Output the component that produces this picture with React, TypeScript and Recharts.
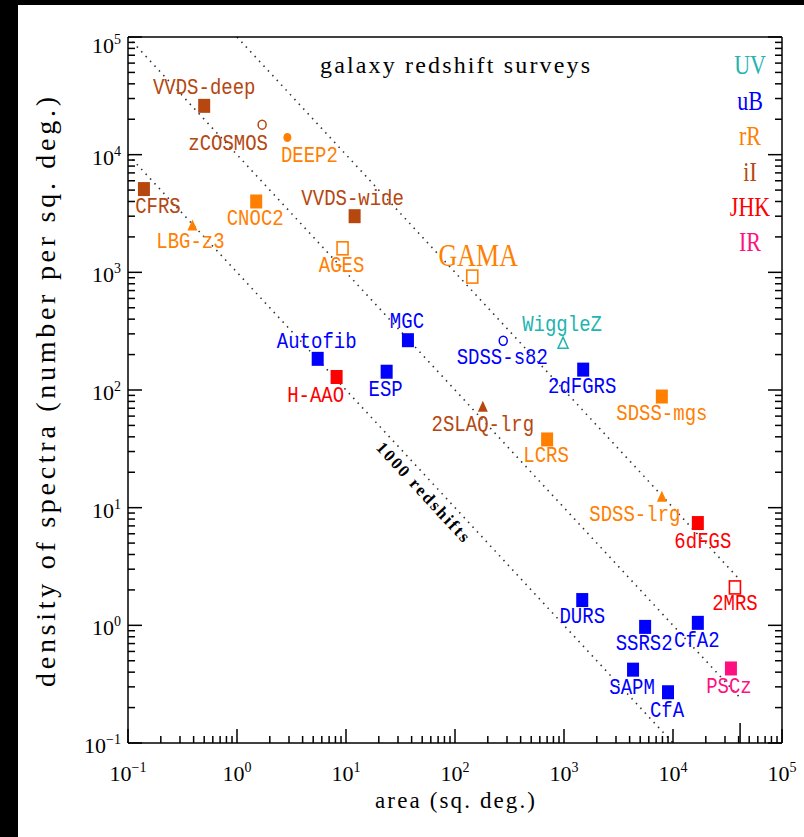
import { ScatterChart, Scatter, XAxis, YAxis, ReferenceLine, Customized } from "recharts";

// survey table: one entry per survey, same order in every array
const surveyNames = [
  "VVDS-deep", "zCOSMOS", "DEEP2", "CFRS", "LBG-z3", "CNOC2", "VVDS-wide", "AGES", "GAMA",
  "MGC", "Autofib", "H-AAO", "ESP", "SDSS-s82", "WiggleZ", "2dFGRS", "SDSS-mgs", "2SLAQ-lrg",
  "LCRS", "SDSS-lrg", "6dFGS", "2MRS", "DURS", "SSRS2", "CfA2", "SAPM", "CfA", "PSCz",
];
// area in sq. deg.
const surveyArea = [
  0.5, 1.7, 2.9, 0.14, 0.39, 1.5, 12, 9.3, 144,
  37, 5.5, 8.2, 23.6, 277, 980, 1500, 7900, 180,
  700, 7900, 16900, 37000, 1470, 5550, 16900, 4300, 9000, 34000,
];
// spectra per sq. deg.
const surveyDensity = [
  26000, 18000, 14000, 5100, 2500, 4000, 3000, 1600, 920,
  265, 184, 129, 143, 262, 250, 149, 88, 72,
  38, 12.4, 7.4, 2.1, 1.64, 0.97, 1.05, 0.42, 0.27, 0.43,
];
const surveyBand = [
  "iI", "iI", "rR", "iI", "rR", "rR", "iI", "rR", "rR",
  "uB", "uB", "JHK", "uB", "uB", "UV", "uB", "rR", "iI",
  "rR", "rR", "JHK", "JHK", "uB", "uB", "uB", "uB", "uB", "IR",
];
// sq = filled square, osq = open square, dot / ring = filled / open circle, tri / otri = triangles
const surveyMarker = [
  "sq", "ring", "dot", "sq", "tri", "sq", "sq", "osq", "osq",
  "sq", "sq", "sq", "sq", "ring", "otri", "sq", "sq", "tri",
  "sq", "tri", "sq", "osq", "sq", "sq", "sq", "sq", "sq", "sq",
];

const bandNames = ["UV", "uB", "rR", "iI", "JHK", "IR"];
const bandColors = ["#22b4b0", "#0000ff", "#ff8000", "#b5470f", "#ff0000", "#ff1080"];

// lines of constant total number of redshifts
const totalCounts = [1e3, 1e4, 1e5];
const FULL_SKY = 41253;
const decadeExponents = [-1, 0, 1, 2, 3, 4, 5];
const AREA_MIN = 0.1;
const DENS_MIN = 0.1;
const DENS_MAX = 1e5;

const rows = surveyNames.map((name, i) => ({
  name,
  area: surveyArea[i],
  density: surveyDensity[i],
  band: surveyBand[i],
  marker: surveyMarker[i],
}));

// label offset from the marker centre, in px
const labelOffset: Record<string, [number, number]> = {
  "VVDS-deep": [0, -18], zCOSMOS: [-34, 19], DEEP2: [22, 19], CFRS: [14, 18],
  "LBG-z3": [-2, 17], CNOC2: [-1, 18], "VVDS-wide": [-2, -17], AGES: [-1, 18],
  GAMA: [6, -21], MGC: [-1, -18], Autofib: [-1, -17], "H-AAO": [-21, 19],
  ESP: [-1, 18], "SDSS-s82": [-1, 17], WiggleZ: [-1, -18], "2dFGRS": [-1, 17],
  "SDSS-mgs": [0, 17], "2SLAQ-lrg": [0, 18], LCRS: [-1, 17], "SDSS-lrg": [-27, 18],
  "6dFGS": [5, 19], "2MRS": [0, 17], DURS: [0, 17], SSRS2: [-1, 17],
  CfA2: [-1, 18], SAPM: [-1, 18], CfA: [-1, 19], PSCz: [-2, 19],
};

const axisTicks = decadeExponents.flatMap((e) =>
  e < 5 ? [1, 2, 3, 4, 5, 6, 7, 8, 9].map((m) => m * 10 ** e) : [10 ** e]
);
const bottomTicks = [...axisTicks, FULL_SKY];

const isDecade = (v: number) => Math.abs(Math.log10(v) - Math.round(Math.log10(v))) < 1e-9;
const expText = (v: number) => {
  const e = Math.round(Math.log10(v));
  return e < 0 ? "\u2212" + -e : String(e);
};

const SERIF = "'Liberation Serif', 'DejaVu Serif', serif";
const MONO = "'Liberation Mono', 'DejaVu Sans Mono', monospace";

function PowerLabel({ x, y, v, anchor }: { x: number; y: number; v: number; anchor: "middle" | "end" }) {
  return (
    <text x={x} y={y} textAnchor={anchor} fontFamily={SERIF} fontSize={22} fill="#000">
      10
      <tspan dy={-9} fontSize={14}>{expText(v)}</tspan>
    </text>
  );
}

const tickLen = (v: number) => (v === FULL_SKY ? 20 : isDecade(v) ? 14 : 7);

const BottomTick = (p: any) => {
  const v = p.payload.value;
  return (
    <g>
      <line x1={p.x} x2={p.x} y1={p.y} y2={p.y - tickLen(v)} stroke="#000" strokeWidth={1.5} />
      {isDecade(v) && <PowerLabel x={p.x} y={p.y + 38} v={v} anchor="middle" />}
    </g>
  );
};

const TopTick = (p: any) => (
  <line x1={p.x} x2={p.x} y1={p.y} y2={p.y + tickLen(p.payload.value)} stroke="#000" strokeWidth={1.5} />
);

const LeftTick = (p: any) => {
  const v = p.payload.value;
  return (
    <g>
      <line x1={p.x} x2={p.x + tickLen(v)} y1={p.y} y2={p.y} stroke="#000" strokeWidth={1.5} />
      {isDecade(v) && <PowerLabel x={p.x - 7} y={p.y + (v === 1e5 ? 16 : 10)} v={v} anchor="end" />}
    </g>
  );
};

const RightTick = (p: any) => (
  <line x1={p.x} x2={p.x - tickLen(p.payload.value)} y1={p.y} y2={p.y} stroke="#000" strokeWidth={1.5} />
);

function Stretched({ x, y, sy, children, ...rest }: any) {
  return (
    <text transform={`translate(${x},${y}) scale(1,${sy})`} x={0} y={0} textAnchor="middle" dominantBaseline="central" {...rest}>
      {children}
    </text>
  );
}

function SurveyMark(props: any) {
  const { cx, cy, payload } = props;
  const color = bandColors[bandNames.indexOf(payload.band)];
  const [dx, dy] = labelOffset[payload.name] ?? [0, 18];
  let mark;
  switch (payload.marker) {
    case "osq":
      mark = <rect x={cx - 5.5} y={cy - 6.5} width={11} height={13} fill="none" stroke={color} strokeWidth={1.6} />;
      break;
    case "dot":
      mark = <ellipse cx={cx} cy={cy} rx={4} ry={4.5} fill={color} />;
      break;
    case "ring":
      mark = <ellipse cx={cx} cy={cy} rx={4} ry={4.5} fill="none" stroke={color} strokeWidth={1.5} />;
      break;
    case "tri":
      mark = <polygon points={`${cx - 5},${cy + 5} ${cx + 5},${cy + 5} ${cx},${cy - 6}`} fill={color} />;
      break;
    case "otri":
      mark = <polygon points={`${cx - 5},${cy + 5} ${cx + 5},${cy + 5} ${cx},${cy - 6}`} fill="none" stroke={color} strokeWidth={1.5} />;
      break;
    default:
      mark = <rect x={cx - 6} y={cy - 7} width={12} height={14} fill={color} />;
  }
  const big = payload.name === "GAMA";
  return (
    <g>
      {mark}
      <Stretched x={cx + dx} y={cy + dy} sy={1.2} fontFamily={big ? SERIF : MONO} fontSize={big ? 26 : 19} fill={color}>
        {payload.name}
      </Stretched>
    </g>
  );
}

function Decorations() {
  return (
    <g>
      <text x={455} y={73} textAnchor="middle" fontFamily={SERIF} fontSize={24} textLength={270} lengthAdjust="spacing" fill="#000">
        galaxy redshift surveys
      </text>
      {bandNames.map((b, i) => (
        <Stretched key={b} x={750} y={65 + i * 35.4} sy={1.25} fontFamily={SERIF} fontSize={22} fill={bandColors[i]}>
          {b}
        </Stretched>
      ))}
      <text
        transform="translate(423,492) rotate(47.3)"
        textAnchor="middle"
        dominantBaseline="central"
        fontFamily={SERIF}
        fontWeight="bold"
        fontSize={17}
        textLength={129}
        lengthAdjust="spacing"
        fill="#000"
      >
        1000 redshifts
      </text>
      <text x={455} y={808} textAnchor="middle" fontFamily={SERIF} fontSize={23} textLength={160} lengthAdjust="spacing" fill="#000">
        area (sq. deg.)
      </text>
      <text
        transform="translate(45,392) rotate(-90)"
        textAnchor="middle"
        dominantBaseline="central"
        fontFamily={SERIF}
        fontSize={28}
        textLength={590}
        lengthAdjust="spacing"
        fill="#000"
      >
        density of spectra (number per sq. deg.)
      </text>
    </g>
  );
}

export default function App() {
  return (
    <div style={{ position: "fixed", left: 0, top: 0, width: 804, height: 837, background: "#000" }}>
      <div style={{ position: "absolute", left: 18, top: 5, right: 0, bottom: 0, background: "#fff" }} />
      <div style={{ position: "absolute", left: 0, top: 0 }}>
        <ScatterChart width={804} height={837} margin={{ top: 17, right: 12, bottom: 34, left: 48 }}>
          <XAxis
            xAxisId="x"
            dataKey="area"
            type="number"
            scale="log"
            domain={[AREA_MIN, 1e5]}
            allowDataOverflow
            ticks={bottomTicks}
            interval={0}
            height={60}
            tickSize={0}
            tickMargin={0}
            tick={BottomTick}
            axisLine={{ stroke: "#000", strokeWidth: 1.5 }}
          />
          <XAxis
            xAxisId="xt"
            orientation="top"
            type="number"
            scale="log"
            domain={[AREA_MIN, 1e5]}
            allowDataOverflow
            ticks={axisTicks}
            interval={0}
            height={20}
            tickSize={0}
            tickMargin={0}
            tick={TopTick}
            axisLine={{ stroke: "#000", strokeWidth: 1.5 }}
          />
          <YAxis
            yAxisId="y"
            dataKey="density"
            type="number"
            scale="log"
            domain={[DENS_MIN, DENS_MAX]}
            allowDataOverflow
            ticks={axisTicks}
            interval={0}
            width={80}
            tickSize={0}
            tickMargin={0}
            tick={LeftTick}
            axisLine={{ stroke: "#000", strokeWidth: 1.5 }}
          />
          <YAxis
            yAxisId="yt"
            orientation="right"
            type="number"
            scale="log"
            domain={[DENS_MIN, DENS_MAX]}
            allowDataOverflow
            ticks={axisTicks}
            interval={0}
            width={10}
            tickSize={0}
            tickMargin={0}
            tick={RightTick}
            axisLine={{ stroke: "#000", strokeWidth: 1.5 }}
          />
          {totalCounts.map((n) => {
            const a0 = Math.max(AREA_MIN, n / DENS_MAX);
            const a1 = Math.min(FULL_SKY, n / DENS_MIN);
            return (
              <ReferenceLine
                key={n}
                xAxisId="x"
                yAxisId="y"
                segment={[
                  { x: a0, y: n / a0 },
                  { x: a1, y: n / a1 },
                ]}
                stroke="#333"
                strokeWidth={1.6}
                strokeDasharray="1.5 5"
              />
            );
          })}
          <Scatter xAxisId="x" yAxisId="y" data={rows} shape={SurveyMark} isAnimationActive={false} />
          <Customized component={Decorations} />
        </ScatterChart>
      </div>
    </div>
  );
}
